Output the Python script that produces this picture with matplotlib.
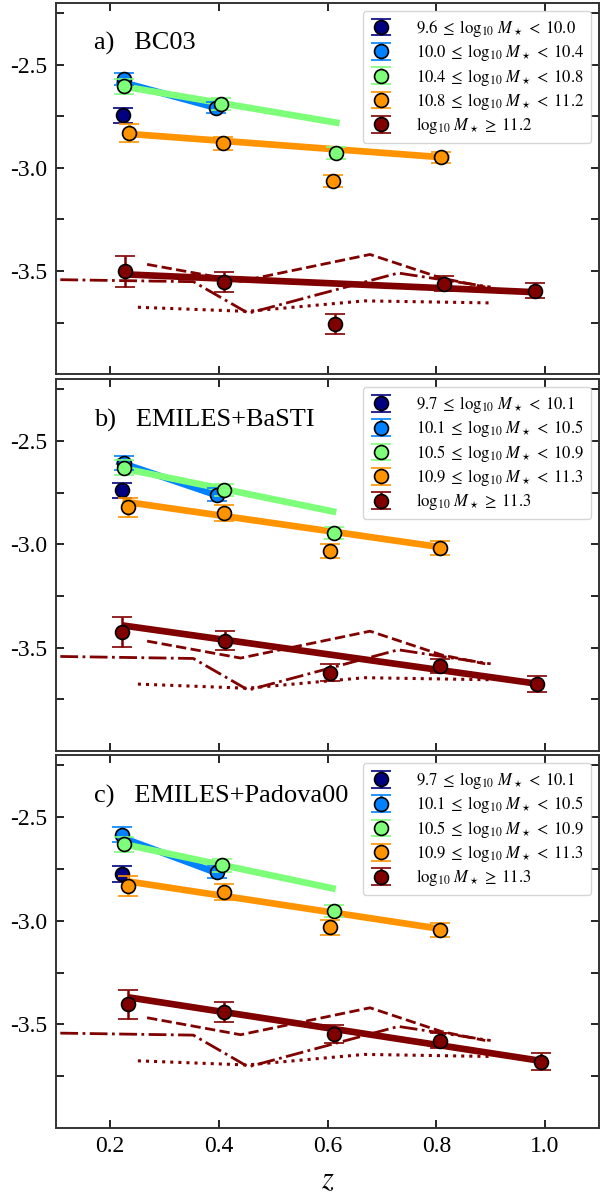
import numpy as np
import matplotlib
matplotlib.use('Agg')
import matplotlib.pyplot as plt
from matplotlib.ticker import FixedLocator, FixedFormatter

plt.rcParams['font.family'] = ['Liberation Serif', 'DejaVu Serif']
plt.rcParams['mathtext.fontset'] = 'stix'
plt.rcParams['axes.unicode_minus'] = False

# mass bin edges for each panel
a_bins = ['9.6', '10.0', '10.4', '10.8', '11.2']
bc_bins = ['9.7', '10.1', '10.5', '10.9', '11.3']

# panel a) BC03
a_z = [[0.2245], [0.226, 0.394], [0.225, 0.404, 0.616],
       [0.235, 0.408, 0.610, 0.808], [0.227, 0.409, 0.614, 0.815, 0.982]]
a_y = [[-2.745], [-2.569, -2.708], [-2.604, -2.689, -2.928],
       [-2.830, -2.881, -3.062, -2.949], [-3.502, -3.554, -3.758, -3.562, -3.595]]
a_err = [[0.037], [0.030, 0.026], [0.037, 0.030, 0.028],
         [0.042, 0.030, 0.029, 0.027], [0.076, 0.048, 0.048, 0.037, 0.038]]
a_fit_z = [None, [0.212, 0.394], [0.215, 0.622], [0.224, 0.824], [0.224, 0.982]]
a_fit_y = [None, [-2.577, -2.708], [-2.601, -2.783], [-2.833, -2.951], [-3.516, -3.603]]

# panel b) EMILES+BaSTI
b_z = [[0.2225], [0.2246, 0.397], [0.226, 0.409, 0.611],
       [0.233, 0.410, 0.604, 0.807], [0.222, 0.411, 0.604, 0.807, 0.985]]
b_y = [[-2.739], [-2.605, -2.760], [-2.629, -2.735, -2.944],
       [-2.821, -2.848, -3.032, -3.018], [-3.424, -3.466, -3.621, -3.589, -3.676]]
b_err = [[0.036], [0.034, 0.032], [0.037, 0.029, 0.028],
         [0.047, 0.039, 0.034, 0.035], [0.073, 0.047, 0.042, 0.035, 0.039]]
b_fit_z = [None, [0.212, 0.397], [0.221, 0.616], [0.2225, 0.820], [0.2225, 0.985]]
b_fit_y = [None, [-2.598, -2.763], [-2.631, -2.844], [-2.792, -3.018], [-3.392, -3.674]]

# panel c) EMILES+Padova00
c_z = [[0.2225], [0.221, 0.396], [0.2246, 0.405, 0.611],
       [0.232, 0.410, 0.604, 0.807], [0.232, 0.410, 0.611, 0.807, 0.992]]
c_y = [[-2.773], [-2.584, -2.765], [-2.631, -2.732, -2.955],
       [-2.831, -2.860, -3.032, -3.044], [-3.403, -3.442, -3.547, -3.579, -3.681]]
c_err = [[0.039], [0.035, 0.027], [0.036, 0.031, 0.029],
         [0.048, 0.038, 0.035, 0.035], [0.071, 0.049, 0.044, 0.036, 0.041]]
c_fit_z = [None, [0.212, 0.396], [0.2225, 0.615], [0.2225, 0.820], [0.232, 0.992]]
c_fit_y = [None, [-2.589, -2.769], [-2.629, -2.847], [-2.806, -3.044], [-3.369, -3.676]]

# comparison curves (same in every panel)
dash_z = [0.268, 0.44, 0.678, 0.81, 0.89]
dash_y = [-3.468, -3.550, -3.420, -3.535, -3.578]
dashdot_z = [0.0, 0.353, 0.454, 0.73, 0.90]
dashdot_y = [-3.538, -3.552, -3.705, -3.510, -3.578]
dot_z = [0.251, 0.452, 0.668, 0.90]
dot_y = [-3.676, -3.696, -3.645, -3.655]

names = ['a)   BC03', 'b)   EMILES+BaSTI', 'c)   EMILES+Padova00']

colors = plt.cm.jet(np.linspace(0, 1, 5))
dark = colors[4]

fig = plt.figure(figsize=(6, 11.95), dpi=100)
boxes = [[0.093, 0.687, 0.906, 0.3105],
         [0.093, 0.3715, 0.906, 0.3113],
         [0.093, 0.0561, 0.906, 0.3121]]

panels = [(a_bins, a_z, a_y, a_err, a_fit_z, a_fit_y),
          (bc_bins, b_z, b_y, b_err, b_fit_z, b_fit_y),
          (bc_bins, c_z, c_y, c_err, c_fit_z, c_fit_y)]

for k, (bins, zs, ys, es, fz, fy) in enumerate(panels):
    ax = fig.add_axes(boxes[k])

    ax.plot(dash_z, dash_y, ls='--', color=dark, lw=2.0, zorder=1)
    ax.plot(dashdot_z, dashdot_y, ls='-.', color=dark, lw=2.0, zorder=1)
    ax.plot(dot_z, dot_y, ls=':', color=dark, lw=2.2, zorder=1)

    for i in range(5):
        if fz[i] is not None:
            ax.plot(fz[i], fy[i], '-', color=colors[i], lw=4.8, zorder=2,
                    solid_capstyle='butt')

    for i in range(5):
        if i < 4:
            lab = r'$%s \;\leq\; \log_{10}\, M_\star\, <\; %s$' % (bins[i], bins[i + 1])
        else:
            lab = r'$\log_{10}\, M_\star \,\geq\; %s$' % bins[4]
        ax.errorbar(zs[i], ys[i], yerr=es[i], fmt='o', color=colors[i],
                    mfc=colors[i], mec='k', mew=1.2, ms=10, elinewidth=1.8,
                    capsize=7, capthick=1.8, label=lab, zorder=3 + i)

    ax.set_xlim(0.1, 1.1)
    ax.set_ylim(-4.0, -2.2)
    yt = [-3.75, -3.5, -3.25, -3.0, -2.75, -2.5, -2.25]
    ax.yaxis.set_major_locator(FixedLocator(yt))
    ax.yaxis.set_major_formatter(FixedFormatter(['', '-3.5', '', '-3.0', '', '-2.5', '']))
    ax.set_xticks([0.2, 0.4, 0.6, 0.8, 1.0])
    ax.tick_params(direction='in', top=True, right=True, length=6, width=1.2,
                   labelsize=17, pad=6)
    for s in ax.spines.values():
        s.set_linewidth(1.4)
        s.set_color('#333333')

    if k < 2:
        ax.set_xticklabels([])
    else:
        ax.set_xticklabels(['0.2', '0.4', '0.6', '0.8', '1.0'])
        ax.set_xlabel(r'$z$', fontsize=22, labelpad=6)

    ax.text(0.07, 0.89, names[k], transform=ax.transAxes, fontsize=19,
            ha='left', va='center')
    ax.legend(loc='upper right', fontsize=12, labelspacing=0.2,
              handletextpad=1.4, borderaxespad=0.5, handlelength=1.4,
              borderpad=0.4)

fig.savefig('out.png', dpi=100)
